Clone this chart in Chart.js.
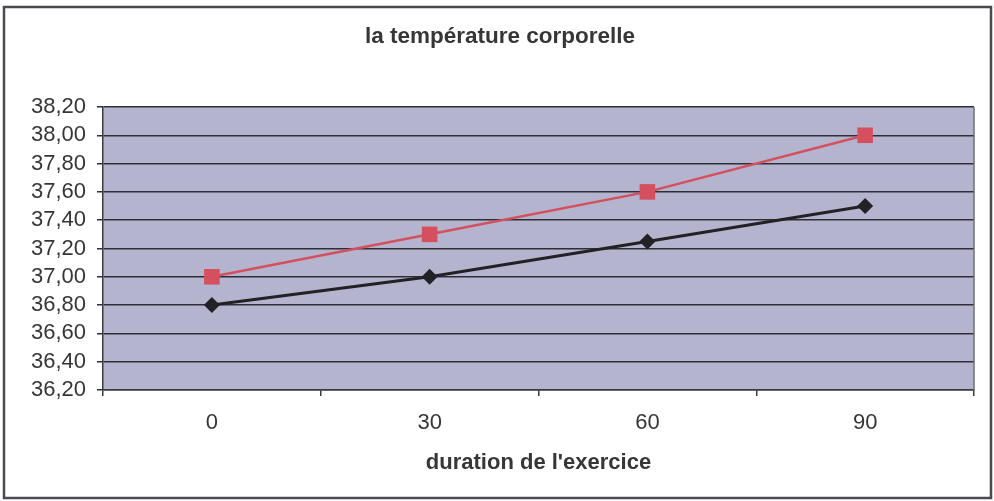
<!DOCTYPE html>
<html>
<head>
<meta charset="utf-8">
<script src="https://cdn.jsdelivr.net/npm/chart.js@4.4.1/dist/chart.umd.min.js"></script>
<style>
  html, body { margin: 0; padding: 0; background: #fff; }
  #wrap { width: 994px; height: 501px; }
</style>
</head>
<body>
<div id="wrap"><canvas id="chart" width="994" height="501"></canvas></div>
<script>
const durations = ['0', '30', '60', '90'];
const tempRed = [37.00, 37.30, 37.60, 38.00];
const tempBlack = [36.80, 37.00, 37.25, 37.50];
const yMin = 36.2;
const yMax = 38.2;
const yStep = 0.2;

const FONT = "'Liberation Sans', Arial, sans-serif";
const TEXT = '#363636';

// plot background, plot outline and the outer frame
const frame = {
  id: 'frame',
  beforeDraw(chart) {
    const { ctx, chartArea: a } = chart;
    ctx.save();
    ctx.fillStyle = '#b4b4cf';
    ctx.fillRect(a.left, a.top, a.right - a.left, a.bottom - a.top);
    ctx.restore();
  },
  afterDraw(chart) {
    const { ctx, chartArea: a } = chart;
    ctx.save();
    ctx.strokeStyle = '#6e6e78';
    ctx.lineWidth = 1.5;
    ctx.beginPath();
    ctx.moveTo(a.right, a.top);
    ctx.lineTo(a.right, a.bottom);
    ctx.stroke();
    ctx.strokeStyle = '#4a4a50';
    ctx.lineWidth = 2.5;
    ctx.strokeRect(4, 7, 987, 491);
    ctx.restore();
  }
};

const fmt = (v) => Number(v).toFixed(2).replace('.', ',');

new Chart(document.getElementById('chart'), {
  type: 'line',
  data: {
    labels: durations,
    datasets: [
      {
        label: 'série 1',
        data: tempBlack,
        borderColor: '#222226',
        backgroundColor: '#222226',
        borderWidth: 3,
        pointStyle: 'rectRot',
        pointRadius: 8,
        pointBorderWidth: 0,
        tension: 0,
      },
      {
        label: 'série 2',
        data: tempRed,
        borderColor: '#d4505e',
        backgroundColor: '#d4505e',
        borderWidth: 2.5,
        pointStyle: 'rect',
        pointRadius: 11,
        pointBorderWidth: 0,
        tension: 0,
      },
    ],
  },
  options: {
    responsive: false,
    animation: false,
    layout: { padding: { left: 26, right: 20, top: 0, bottom: 23 } },
    plugins: {
      legend: { display: false },
      tooltip: { enabled: false },
      title: {
        display: true,
        text: 'la température corporelle',
        color: TEXT,
        font: { family: FONT, size: 22.5, weight: 'bold' },
        padding: { top: 23, bottom: 57 },
      },
    },
    scales: {
      x: {
        offset: true,
        afterFit: (s) => { s.height = 88; },
        grid: { offset: true, drawOnChartArea: false, drawTicks: true, tickLength: 6, color: '#3a3a40', lineWidth: 1.5 },
        border: { display: true, color: '#3a3a40', width: 1.5 },
        ticks: { color: TEXT, padding: 14, font: { family: FONT, size: 22 } },
        title: {
          display: true,
          text: "duration de l'exercice",
          color: TEXT,
          font: { family: FONT, size: 22, weight: 'bold' },
          padding: { top: 0, bottom: 2 },
        },
      },
      y: {
        min: yMin,
        max: yMax,
        afterFit: (s) => { s.width = 77; },
        grid: { color: '#2e2e36', lineWidth: 1.5, tickLength: 6, drawTicks: true },
        border: { display: true, color: '#3a3a40', width: 1.5 },
        ticks: {
          stepSize: yStep,
          autoSkip: false,
          color: TEXT,
          padding: 11,
          font: { family: FONT, size: 22 },
          callback: (v) => fmt(v),
        },
      },
    },
  },
  plugins: [frame],
});
</script>
</body>
</html>
